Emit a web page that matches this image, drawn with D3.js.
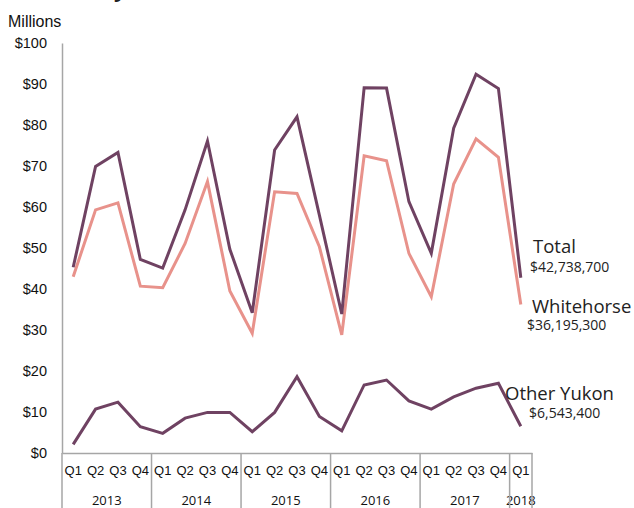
<!DOCTYPE html>
<html>
<head>
<meta charset="utf-8">
<script src="https://cdnjs.cloudflare.com/ajax/libs/d3/7.8.5/d3.min.js"></script>
<style>
  body { margin: 0; background: #fff; }
  svg { display: block; font-family: "Open Sans", "Liberation Sans", sans-serif; }
</style>
</head>
<body>
<svg id="chart" width="634" height="508"></svg>
<script>
var years = ["2013", "2014", "2015", "2016", "2017", "2018"];
var quarters = ["Q1", "Q2", "Q3", "Q4"];

// quarterly values, millions of dollars, Q1 2013 .. Q1 2018
var total = [45.3, 69.9, 73.3, 47.2, 45.1, 59.3, 76.1, 49.7, 34.2, 73.9, 82.0, 58.0,
             33.9, 89.1, 89.0, 61.3, 48.7, 79.2, 92.4, 88.9, 42.74];
var whitehorse = [43.0, 59.3, 61.0, 40.7, 40.3, 51.1, 66.2, 39.5, 29.2, 63.7, 63.3, 50.3,
                  28.8, 72.5, 71.3, 48.7, 38.1, 65.6, 76.6, 72.1, 36.2];
var otherYukon = [2.1, 10.7, 12.4, 6.4, 4.8, 8.5, 9.9, 9.9, 5.2, 9.9, 18.6, 8.9,
                  5.4, 16.6, 17.8, 12.7, 10.7, 13.7, 15.8, 17.0, 6.54];

var yTicks = [0, 10, 20, 30, 40, 50, 60, 70, 80, 90, 100];

var seriesNames = ["Total", "Whitehorse", "Other Yukon"];
var lastValues = ["$42,738,700", "$36,195,300", "$6,543,400"];

// build categories
var cats = [];
years.forEach(function(yr){
  quarters.forEach(function(q){
    if (yr == "2018" && q != "Q1") return;
    cats.push(yr + " " + q);
  });
});

var svg = d3.select("#chart");
var plotLeft = 62, plotRight = 532, plotTop = 43, plotBottom = 453;

var x = d3.scaleBand().domain(cats).range([plotLeft, plotRight]);
var y = d3.scaleLinear().domain([0, 100]).range([plotBottom, plotTop]);

// title, mostly cut off above the frame
svg.append("text")
  .attr("x", 100).attr("y", -3)
  .attr("font-size", 22).attr("font-weight", "bold")
  .attr("fill", "#222")
  .text("by Value of Real Estate Transactions");

svg.append("text")
  .attr("x", 8).attr("y", 27)
  .attr("font-size", 16).attr("fill", "#111")
  .attr("font-family", "Liberation Sans, sans-serif")
  .text("Millions");

// y axis
var yAxis = d3.axisLeft(y).tickValues(yTicks).tickSize(0).tickPadding(15)
  .tickFormat(function(d){ return "$" + d; });
var gy = svg.append("g").attr("transform", "translate(" + plotLeft + ",0)").call(yAxis);
gy.select(".domain").attr("stroke", "#a6a6a6").attr("stroke-width", 1.5);
gy.selectAll("text").attr("font-size", 14.5).attr("fill", "#111");

// x axis with quarter labels
var xAxis = d3.axisBottom(x).tickSize(0).tickPadding(13)
  .tickFormat(function(d){ return d.split(" ")[1]; });
var gx = svg.append("g").attr("transform", "translate(0," + plotBottom + ")").call(xAxis);
gx.select(".domain").attr("stroke", "#a6a6a6").attr("stroke-width", 1.5);
gx.selectAll("text").attr("font-size", 13).attr("fill", "#111");

// year dividers and labels
years.forEach(function(yr){
  var yc = cats.filter(function(c){ return c.indexOf(yr) == 0; });
  var x0 = x(yc[0]);
  var x1 = x(yc[yc.length - 1]) + x.bandwidth();
  svg.append("text")
    .attr("x", (x0 + x1) / 2).attr("y", 505)
    .attr("text-anchor", "middle")
    .attr("font-size", 13).attr("fill", "#111")
    .text(yr);
  svg.append("line")
    .attr("x1", x0).attr("x2", x0)
    .attr("y1", plotBottom).attr("y2", 508)
    .attr("stroke", "#a6a6a6").attr("stroke-width", 1.5);
  if (yr == "2018") {
    svg.append("line")
      .attr("x1", x1).attr("x2", x1)
      .attr("y1", plotBottom).attr("y2", 508)
      .attr("stroke", "#a6a6a6").attr("stroke-width", 1.5);
  }
});

// lines
var line = d3.line()
  .x(function(d, i){ return x(cats[i]) + x.bandwidth() / 2; })
  .y(function(d){ return y(d); });

var series = [
  { data: otherYukon, color: "#6f4262" },
  { data: whitehorse, color: "#e8928b" },
  { data: total, color: "#6f4262" }
];
series.forEach(function(s){
  svg.append("path")
    .datum(s.data)
    .attr("d", line)
    .attr("fill", "none")
    .attr("stroke", s.color)
    .attr("stroke-width", 3)
    .attr("stroke-linejoin", "miter");
});

// end labels
var labelPos = [
  { x: 533, y: 253, vx: 530, vy: 272 },
  { x: 532, y: 313, vx: 527, vy: 330 },
  { x: 505, y: 400, vx: 529, vy: 418 }
];
seriesNames.forEach(function(n, i){
  svg.append("text")
    .attr("x", labelPos[i].x).attr("y", labelPos[i].y)
    .attr("font-size", 18.5).attr("fill", "#222")
    .text(n);
  svg.append("text")
    .attr("x", labelPos[i].vx).attr("y", labelPos[i].vy)
    .attr("font-size", 14).attr("fill", "#222")
    .text(lastValues[i]);
});
</script>
</body>
</html>
